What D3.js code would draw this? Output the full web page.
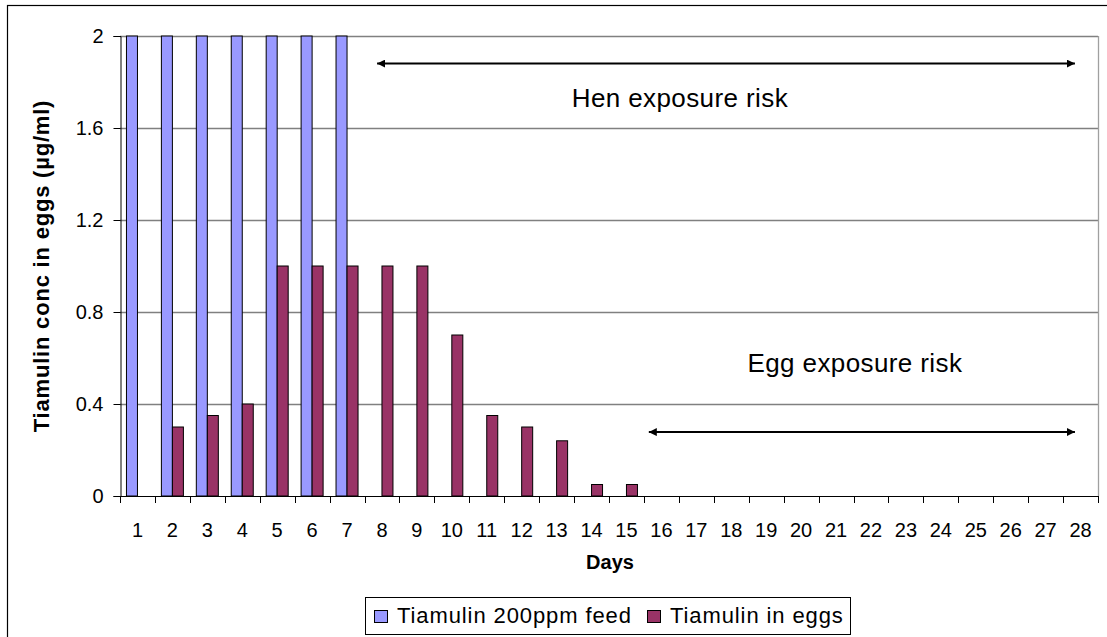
<!DOCTYPE html>
<html><head><meta charset="utf-8">
<script src="https://cdn.jsdelivr.net/npm/d3@7"></script>
<style>body{margin:0;background:#fff}svg{display:block;font-family:"Liberation Sans",Arial,sans-serif}</style>
</head><body>
<svg id="c" width="1107" height="637"></svg>
<script>
const days = d3.range(1, 29).map(String);
const seriesNames = ["Tiamulin 200ppm feed", "Tiamulin in eggs"];
const feedValues = [2,2,2,2,2,2,2,0,0,0,0,0,0,0,0,0,0,0,0,0,0,0,0,0,0,0,0,0];
const eggValues  = [0,0.3,0.35,0.4,1,1,1,1,1,0.7,0.35,0.3,0.24,0.05,0.05,0,0,0,0,0,0,0,0,0,0,0,0,0];
const yTicks = [0, 0.4, 0.8, 1.2, 1.6, 2];
const yTickLabels = ["0", "0.4", "0.8", "1.2", "1.6", "2"];
const colors = ["#9999FF", "#993366"];
const annotationTexts = ["Hen exposure risk", "Egg exposure risk"];
const arrowFrom = [7.36, 15.14];
const arrowTo = [27.34, 27.34];
const arrowLevel = [1.88, 0.278];
const textCenter = [16.03, 21.04];
const textLevel = [1.69, 0.54];

const svg = d3.select("#c");
const L = 120, R = 1098, T = 36, B = 496;

// outer chart border
svg.append("rect").attr("x", 7.5).attr("y", 5.5).attr("width", 1110).attr("height", 640)
  .attr("fill", "#fff").attr("stroke", "#000").attr("stroke-width", 1.2);

const x0 = d3.scaleBand().domain(days).range([L, R]).paddingInner(0.37).paddingOuter(0.185);
const x1 = d3.scaleBand().domain(seriesNames).range([0, x0.bandwidth()]);
const xb = d3.scaleLinear().domain([0, 28]).range([L, R]);
const y = d3.scaleLinear().domain([0, 2]).range([B, T]);

// gridlines
svg.append("g").selectAll("line").data(yTicks.filter(v => v > 0)).join("line")
  .attr("x1", L).attr("x2", R).attr("y1", d => y(d) + 0.5).attr("y2", d => y(d) + 0.5)
  .attr("stroke", "#808080").attr("stroke-width", 1.3);
// plot right border
svg.append("line").attr("x1", R + 0.5).attr("x2", R + 0.5).attr("y1", T).attr("y2", B)
  .attr("stroke", "#a0a0a0").attr("stroke-width", 1.3);

// bars
const data = [feedValues, eggValues];
data.forEach((vals, si) => {
  svg.append("g").selectAll("rect").data(vals.map((v, i) => ({v, d: days[i]})).filter(o => o.v > 0)).join("rect")
    .attr("x", o => x0(o.d) + x1(seriesNames[si]))
    .attr("y", o => y(o.v))
    .attr("width", x1.bandwidth())
    .attr("height", o => B - y(o.v))
    .attr("fill", colors[si]).attr("stroke", "#000").attr("stroke-width", 1);
});

// y axis
const yAxis = d3.axisLeft(y).tickValues(yTicks).tickFormat((d, i) => yTickLabels[i]).tickSize(7).tickPadding(10);
const gy = svg.append("g").attr("transform", `translate(${L + 0.5},0)`).call(yAxis);
gy.select(".domain").attr("stroke", "#000");
gy.selectAll(".tick line").attr("stroke", "#000");
gy.selectAll("text").attr("font-size", 20).attr("fill", "#000").attr("font-family", "Liberation Sans, Arial, sans-serif");

// x axis
svg.append("line").attr("x1", L).attr("x2", R + 1).attr("y1", B + 0.5).attr("y2", B + 0.5).attr("stroke", "#000");
svg.append("g").selectAll("line").data(d3.range(0, 29)).join("line")
  .attr("x1", d => Math.round(xb(d)) + 0.5).attr("x2", d => Math.round(xb(d)) + 0.5)
  .attr("y1", B).attr("y2", B + 7).attr("stroke", "#000");
svg.append("g").selectAll("text").data(days).join("text")
  .attr("x", d => x0(d) + x0.bandwidth() / 2).attr("y", 537)
  .attr("text-anchor", "middle").attr("font-size", 20).text(d => d);

// axis titles
svg.append("text").attr("x", 610).attr("y", 569).attr("text-anchor", "middle")
  .attr("font-size", 20).attr("font-weight", "bold").text("Days");
svg.append("text").attr("transform", `translate(49,${(T + B) / 2}) rotate(-90)`)
  .attr("text-anchor", "middle").attr("font-size", 22).attr("font-weight", "bold")
  .attr("letter-spacing", 0.8)
  .text("Tiamulin conc in eggs (µg/ml)");

// annotations with double arrows
const defs = svg.append("defs");
defs.append("marker").attr("id", "ah").attr("viewBox", "0 0 10 10").attr("refX", 10).attr("refY", 5)
  .attr("markerWidth", 4).attr("markerHeight", 4).attr("markerUnits", "strokeWidth").attr("orient", "auto-start-reverse")
  .append("path").attr("d", "M0,0 L10,5 L0,10 z").attr("fill", "#000");
annotationTexts.forEach((t, i) => {
  svg.append("line").attr("x1", xb(arrowFrom[i])).attr("x2", xb(arrowTo[i]))
    .attr("y1", y(arrowLevel[i])).attr("y2", y(arrowLevel[i]))
    .attr("stroke", "#000").attr("stroke-width", 2)
    .attr("marker-start", "url(#ah)").attr("marker-end", "url(#ah)");
  svg.append("text").attr("x", xb(textCenter[i])).attr("y", y(textLevel[i]))
    .attr("text-anchor", "middle").attr("font-size", 26).attr("letter-spacing", 0.4).text(t);
});

// legend
const lg = svg.append("g");
lg.append("rect").attr("x", 365.5).attr("y", 597.5).attr("width", 485).attr("height", 37)
  .attr("fill", "#fff").attr("stroke", "#000");
const legendX = [374, 647];
seriesNames.forEach((s, i) => {
  lg.append("rect").attr("x", legendX[i] + 0.5).attr("y", 610.5).attr("width", 13).attr("height", 12)
    .attr("fill", colors[i]).attr("stroke", "#000");
  lg.append("text").attr("x", legendX[i] + 23).attr("y", 623).attr("font-size", 22)
    .attr("letter-spacing", 0.9).text(s);
});
</script>
</body></html>
